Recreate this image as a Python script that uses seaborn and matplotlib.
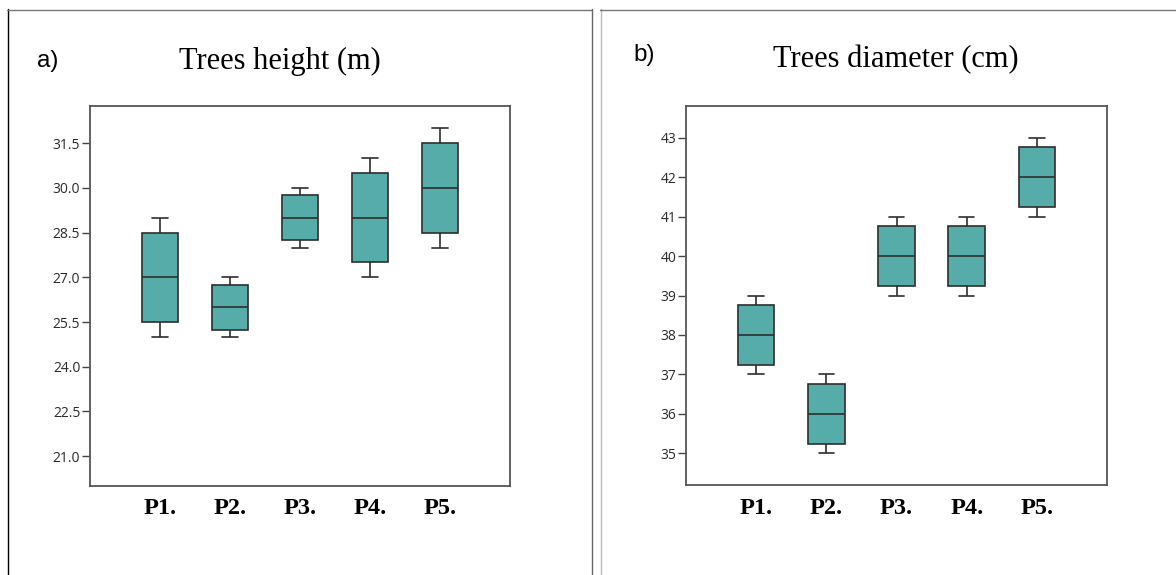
import matplotlib
matplotlib.use("Agg")
import matplotlib.pyplot as plt
from matplotlib.lines import Line2D
import seaborn as sns
import pandas as pd

# Five-number summaries
plots = ["P1.", "P2.", "P3.", "P4.", "P5."]

height_min = [25, 25, 28, 27, 28]
height_q1 = [25.5, 25.25, 28.25, 27.5, 28.5]
height_med = [27, 26, 29, 29, 30]
height_q3 = [28.5, 26.75, 29.75, 30.5, 31.5]
height_max = [29, 27, 30, 31, 32]
height_ticks = [21.0, 22.5, 24.0, 25.5, 27.0, 28.5, 30.0, 31.5]

diam_min = [37, 35, 39, 39, 41]
diam_q1 = [37.25, 35.25, 39.25, 39.25, 41.25]
diam_med = [38, 36, 40, 40, 42]
diam_q3 = [38.75, 36.75, 40.75, 40.75, 42.75]
diam_max = [39, 37, 41, 41, 43]
diam_ticks = [35, 36, 37, 38, 39, 40, 41, 42, 43]

W, H = 1176, 575
BOX_COLOR = "#55aca8"
EDGE = "#2e2e2e"


def long_frame(mins, q1s, meds, q3s, maxs):
    # five points per plot give exactly these quartiles
    rows = []
    for p, a, b, c, d, e in zip(plots, mins, q1s, meds, q3s, maxs):
        for v in (a, b, c, d, e):
            rows.append({"plot": p, "value": v})
    return pd.DataFrame(rows)


def px_line(fig, x0, y0, x1, y1, color, lw=1.0):
    fig.add_artist(Line2D([x0 / W, x1 / W], [1 - y0 / H, 1 - y1 / H],
                          transform=fig.transFigure, color=color, lw=lw))


def draw_panel(ax, df, ticks, ylim, fmt):
    sns.boxplot(data=df, x="plot", y="value", order=plots, ax=ax,
                color=BOX_COLOR, saturation=1, width=0.52, whis=(0, 100),
                linecolor=EDGE, linewidth=1.2, fliersize=0, capwidths=0.22)
    ax.set_xlim(-1, 5)
    ax.set_ylim(*ylim)
    ax.set_yticks(ticks)
    ax.set_yticklabels([fmt.format(t) for t in ticks],
                       fontfamily="Open Sans", fontsize=10, color="#2a2a2a")
    ax.set_xticks(range(len(plots)))
    ax.set_xticklabels(plots, fontfamily="Liberation Serif",
                       fontweight="bold", fontsize=17.5, color="black")
    ax.tick_params(axis="x", length=0, pad=9)
    ax.tick_params(axis="y", left=True, length=5.5, width=1.0,
                   color="#444444", pad=1.5)
    ax.set_xlabel("")
    ax.set_ylabel("")
    for s in ax.spines.values():
        s.set_visible(True)
        s.set_color("#555555")
        s.set_linewidth(1.3)


sns.set_style("white")

fig = plt.figure(figsize=(W / 100, H / 100), dpi=100)
ax1 = fig.add_axes([90 / W, 1 - 486 / H, 420 / W, 380 / H])
ax2 = fig.add_axes([686 / W, 1 - 485 / H, 421 / W, 379 / H])

draw_panel(ax1, long_frame(height_min, height_q1, height_med, height_q3, height_max),
           height_ticks, (20.0, 32.75), "{:.1f}")
draw_panel(ax2, long_frame(diam_min, diam_q1, diam_med, diam_q3, diam_max),
           diam_ticks, (34.2, 43.8), "{:d}")

# titles and panel letters
fig.text(280 / W, 1 - 69.5 / H, "Trees height (m)", ha="center", va="baseline",
         fontfamily="Liberation Serif", fontsize=22, color="black")
fig.text(896 / W, 1 - 67 / H, "Trees diameter (cm)", ha="center", va="baseline",
         fontfamily="Liberation Serif", fontsize=22, color="black")
fig.text(37 / W, 1 - 66.5 / H, "a)", ha="left", va="baseline",
         fontfamily="Liberation Sans", fontsize=17.5, color="black")
fig.text(633 / W, 1 - 61 / H, "b)", ha="left", va="baseline",
         fontfamily="Liberation Sans", fontsize=17.5, color="black")

# outer panel frames
px_line(fig, 7.5, 9, 7.5, H, "black")
px_line(fig, 7, 9.5, 592, 9.5, "#777777")
px_line(fig, 592, 9, 592, H, "#666666")
px_line(fig, 600.5, 9, 600.5, H, "#bbbbbb")
px_line(fig, 600, 9.5, W, 9.5, "#777777")

fig.savefig("out.png", dpi=100)
